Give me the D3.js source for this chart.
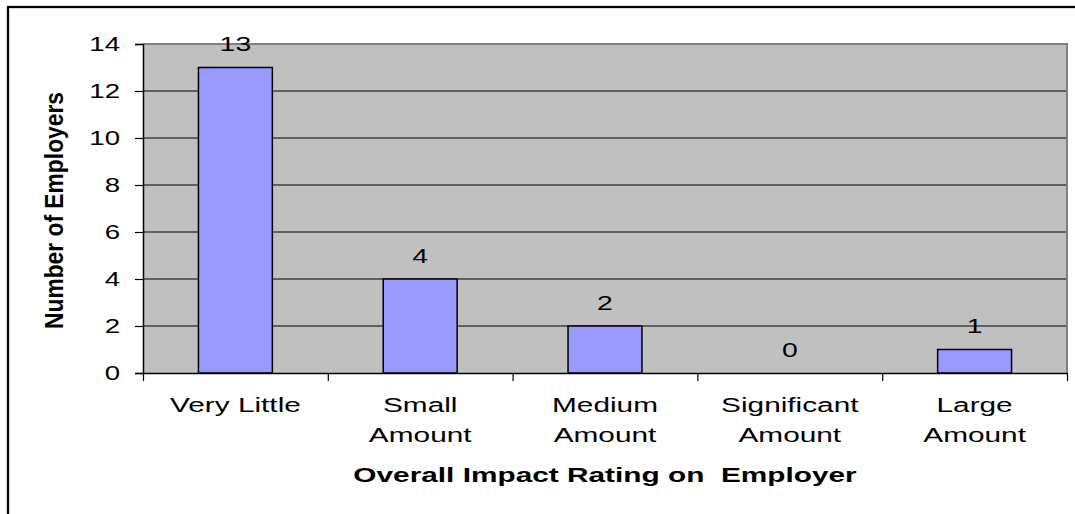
<!DOCTYPE html>
<html><head><meta charset="utf-8">
<script src="https://cdn.jsdelivr.net/npm/d3@7"></script>
<style>body{margin:0;background:#fff;}svg{display:block;font-family:"Liberation Sans",Arial,sans-serif;}</style>
</head><body>
<svg id="c" width="1075" height="514"></svg>
<script>
const categories = [["Very Little"],["Small","Amount"],["Medium","Amount"],["Significant","Amount"],["Large","Amount"]];
const values = [13, 4, 2, 0, 1];
const yTicks = [0, 2, 4, 6, 8, 10, 12, 14];
const xTitle = "Overall Impact Rating on\u00a0 Employer";
const yTitle = "Number of Employers";

const svg = d3.select("#c");
const L = 143, R = 1067, T = 44, B = 373;
const SX = 1.42; // horizontal stretch of the original rendering

// outer frame
svg.append("rect").attr("x", 8).attr("y", 7).attr("width", 1100).attr("height", 600)
  .attr("fill", "#fff").attr("stroke", "#000").attr("stroke-width", 2.3);

const idx = d3.range(categories.length);
const x = d3.scaleBand().domain(idx).range([L, R]).paddingInner(0.6).paddingOuter(0.3);
const xEdge = d3.scaleLinear().domain([0, categories.length]).range([L, R]);
const y = d3.scaleLinear().domain([0, 14]).range([B, T]);

// plot background
svg.append("rect").attr("x", L).attr("y", T).attr("width", R - L).attr("height", B - T).attr("fill", "#C0C0C0");

// gridlines
svg.append("g").selectAll("line").data(yTicks.filter(d => d > 0 && d < 14)).join("line")
  .attr("x1", L).attr("x2", R).attr("y1", d => y(d)).attr("y2", d => y(d))
  .attr("stroke", "#000").attr("stroke-width", 1);

// plot border top/right gray
svg.append("path").attr("d", `M${L},${T}H${R}V${B}`).attr("fill", "none").attr("stroke", "#808080").attr("stroke-width", 2);

// bars
svg.append("g").selectAll("rect").data(values).join("rect")
  .attr("x", (d, i) => x(i)).attr("width", x.bandwidth())
  .attr("y", d => y(d)).attr("height", d => y(0) - y(d))
  .attr("fill", "#9999FF").attr("stroke", "#000").attr("stroke-width", 1.5)
  .style("display", d => d > 0 ? null : "none");

// data labels
svg.append("g").selectAll("text").data(values).join("text")
  .attr("transform", (d, i) => `translate(${x(i) + x.bandwidth() / 2},${y(d) - 16.5}) scale(${SX},1)`)
  .attr("text-anchor", "middle").attr("font-size", 20).attr("fill", "#000").text(d => d);

// y axis
const yAxis = d3.axisLeft(y).tickValues(yTicks).tickSize(8).tickPadding(14).tickFormat(d3.format("d"));
const gy = svg.append("g").attr("transform", `translate(${L},0)`).call(yAxis);
gy.select(".domain").attr("stroke", "#000").attr("stroke-width", 1.5);
gy.selectAll(".tick line").attr("stroke", "#000").attr("stroke-width", 1.2);
gy.selectAll(".tick text").attr("font-size", 20).attr("fill", "#000")
  .attr("font-family", "Liberation Sans, Arial, sans-serif")
  .attr("x", 0).attr("transform", `translate(-23,0) scale(1.38,1)`);

// x axis (ticks at category boundaries)
const xAxis = d3.axisBottom(xEdge).tickValues(d3.range(categories.length + 1)).tickSize(8).tickSizeOuter(0).tickFormat("");
const gx = svg.append("g").attr("transform", `translate(0,${B})`).call(xAxis);
gx.select(".domain").attr("stroke", "#000").attr("stroke-width", 1.5);
gx.selectAll(".tick line").attr("stroke", "#000").attr("stroke-width", 1.2);

// category labels
const cl = svg.append("g").selectAll("text").data(categories).join("text")
  .attr("transform", (d, i) => `translate(${x(i) + x.bandwidth() / 2},412) scale(${SX},1)`)
  .attr("text-anchor", "middle").attr("font-size", 21).attr("fill", "#000");
cl.selectAll("tspan").data(d => d).join("tspan")
  .attr("x", 0).attr("dy", (d, i) => i === 0 ? 0 : 30).text(d => d);

// axis titles
svg.append("text").attr("transform", `translate(${(L + R) / 2},482) scale(${SX},1)`).attr("text-anchor", "middle")
  .attr("font-size", 21).attr("font-weight", "bold").attr("fill", "#000").text(xTitle);
svg.append("text").attr("transform", `translate(63,${(T + B) / 2 + 2}) rotate(-90)`).attr("text-anchor", "middle")
  .attr("font-size", 25).attr("font-weight", "bold").attr("fill", "#000")
  .attr("textLength", 237).attr("lengthAdjust", "spacingAndGlyphs").text(yTitle);
</script>
</body></html>
